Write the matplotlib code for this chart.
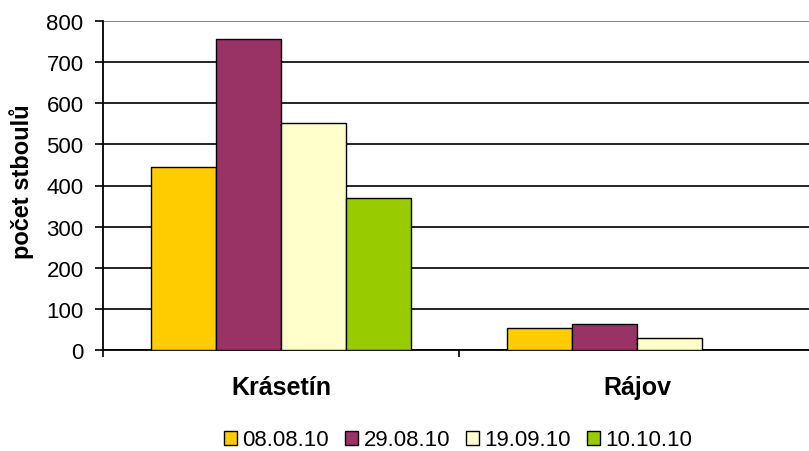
import matplotlib
matplotlib.use("Agg")
import matplotlib.pyplot as plt
from matplotlib.patches import Patch
import numpy as np

plt.rcParams['font.family'] = ['Liberation Sans', 'DejaVu Sans']

categories = ["Krásetín", "Rájov"]
series_names = ["08.08.10", "29.08.10", "19.09.10", "10.10.10"]
values = {
    "08.08.10": [445, 53],
    "29.08.10": [757, 63],
    "19.09.10": [552, 28],
    "10.10.10": [370, 0],
}
colors = ["#FFCC00", "#993366", "#FFFFCC", "#99CC00"]
y_ticks = [0, 100, 200, 300, 400, 500, 600, 700, 800]
y_label = "počet stboulů"

W, H = 809, 452
fig = plt.figure(figsize=(W / 100, H / 100), dpi=100)
left, right, bottom, top = 103, 815, 351, 22
ax = fig.add_axes([left / W, (H - bottom) / H, (right - left) / W, (bottom - top) / H])

x = np.arange(len(categories))
bw = 0.1826
for i, name in enumerate(series_names):
    ax.bar(x + (i - 1.5) * bw, values[name], width=bw, color=colors[i],
           edgecolor="black", linewidth=1.0, zorder=3)

ax.set_xlim(-0.5, len(categories) - 0.5)
ax.set_ylim(0, 800)
ax.set_yticks(y_ticks)
ax.yaxis.grid(True, color="black", linewidth=1.2, zorder=0)
ax.set_axisbelow(True)
for s in ["top", "right"]:
    ax.spines[s].set_visible(False)
ax.spines["left"].set_linewidth(1.3)
ax.spines["bottom"].set_linewidth(1.3)
ax.axhline(800, color="#999999", linewidth=1.2, zorder=1)

ax.tick_params(axis="y", direction="out", length=6, width=1.2, labelsize=16, pad=8)
ax.set_xticks([-0.5, 0.5, 1.5])
ax.set_xticklabels(["", "", ""])
ax.tick_params(axis="x", which="major", direction="out", length=5, width=1.2)
ax.set_xticks(x, minor=True)
ax.set_xticklabels(categories, minor=True, fontsize=18, fontweight="bold")
ax.tick_params(axis="x", which="minor", length=0, pad=18)

fig.text(22 / W, (H - 182) / H, y_label, rotation=90, ha="center", va="center",
         fontsize=17, fontweight="bold")

handles = [Patch(facecolor=c, edgecolor="black", linewidth=1.0) for c in colors]
fig.legend(handles, series_names, loc="center", bbox_to_anchor=(458 / W, (H - 441) / H),
           ncol=4, frameon=False, fontsize=16, handlelength=0.6, handleheight=0.6,
           handletextpad=0.25, columnspacing=0.7, borderpad=0)

fig.savefig("out.png", dpi=100)
